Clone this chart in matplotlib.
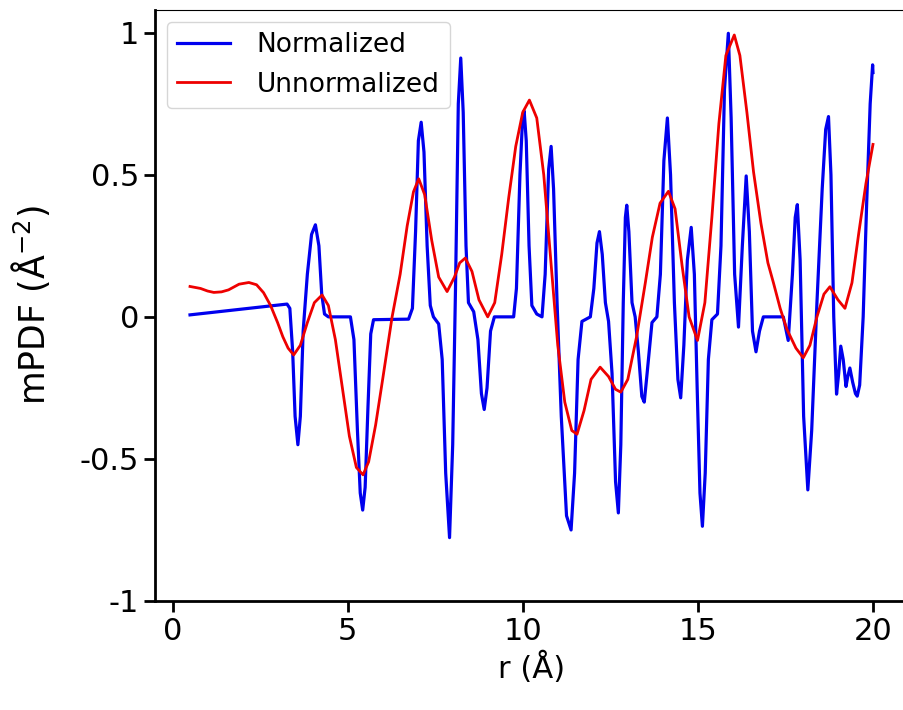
import numpy as np
import matplotlib.pyplot as plt

# Normalized mPDF
r_norm = [0.5, 3.27, 3.35, 3.43, 3.50, 3.58, 3.65, 3.73, 3.85, 3.97, 4.08, 4.18, 4.26, 4.34, 4.45,
          5.08, 5.18, 5.28, 5.36, 5.43, 5.50, 5.58, 5.66, 5.74, 6.74, 6.85, 6.94, 7.02, 7.10, 7.18,
          7.27, 7.36, 7.45, 7.60, 7.70, 7.80, 7.91, 8.00, 8.08, 8.16, 8.23, 8.30, 8.38, 8.45, 8.60,
          8.72, 8.82, 8.90, 8.98, 9.08, 9.19, 9.74, 9.82, 9.92, 10.00, 10.04, 10.10, 10.18, 10.26,
          10.40, 10.55, 10.64, 10.74, 10.81, 10.88, 10.98, 11.10, 11.25, 11.38, 11.48, 11.58, 11.69,
          11.93, 12.03, 12.12, 12.19, 12.27, 12.36, 12.45, 12.55, 12.65, 12.73, 12.80, 12.87, 12.93,
          12.97, 13.03, 13.12, 13.21, 13.30, 13.40, 13.47, 13.55, 13.69, 13.83, 13.93, 14.03, 14.13,
          14.22, 14.33, 14.43, 14.51, 14.60, 14.70, 14.81, 14.90, 14.98, 15.06, 15.13, 15.21, 15.30,
          15.40, 15.56, 15.66, 15.76, 15.87, 15.95, 16.05, 16.16, 16.27, 16.38, 16.47, 16.56, 16.66,
          16.76, 16.87, 17.44, 17.58, 17.70, 17.78, 17.84, 17.92, 18.02, 18.14, 18.25, 18.40, 18.55,
          18.65, 18.73, 18.80, 18.88, 18.96, 19.02, 19.08, 19.15, 19.23, 19.28, 19.34, 19.42, 19.50,
          19.55, 19.62, 19.72, 19.82, 19.92, 19.99, 20.0]
y_norm = [0.007, 0.045, 0.03, -0.12, -0.35, -0.45, -0.35, -0.05, 0.15, 0.29, 0.324, 0.25, 0.08, 0.01, 0.0,
          0.0, -0.08, -0.40, -0.62, -0.68, -0.60, -0.32, -0.06, -0.01, -0.008, 0.03, 0.30, 0.62, 0.685, 0.58,
          0.25, 0.04, 0.0, -0.025, -0.15, -0.55, -0.777, -0.45, 0.10, 0.75, 0.911, 0.72, 0.25, 0.05, 0.018,
          -0.08, -0.27, -0.326, -0.25, -0.05, 0.0, 0.0, 0.10, 0.50, 0.71, 0.725, 0.62, 0.25, 0.04,
          0.01, 0.0, 0.15, 0.52, 0.60, 0.45, 0.05, -0.35, -0.70, -0.75, -0.55, -0.15, -0.016,
          0.0, 0.10, 0.26, 0.30, 0.22, 0.05, -0.016, -0.20, -0.58, -0.69, -0.45, 0.05, 0.35,
          0.393, 0.30, 0.05, 0.0, -0.12, -0.28, -0.30, -0.20, -0.02, 0.0, 0.15, 0.55, 0.70,
          0.50, 0.05, -0.22, -0.285, -0.10, 0.20, 0.315, 0.15, -0.25, -0.62, -0.737, -0.55, -0.15,
          -0.01, 0.01, 0.25, 0.80, 0.998, 0.70, 0.15, -0.036, 0.25, 0.496, 0.30, -0.05, -0.123,
          -0.05, 0.0, 0.0, -0.083, 0.15, 0.35, 0.395, 0.20, -0.35, -0.609, -0.40, 0.05, 0.45,
          0.66, 0.705, 0.50, 0.0, -0.272, -0.20, -0.103, -0.15, -0.245, -0.21, -0.18, -0.23, -0.27,
          -0.279, -0.24, 0.0, 0.40, 0.75, 0.887, 0.86]

# Unnormalized mPDF
r_unnorm = [0.5, 0.8, 1.0, 1.18, 1.4, 1.6, 1.9, 2.18, 2.4, 2.6, 2.8, 3.0, 3.15, 3.30, 3.46, 3.65, 3.85,
            4.05, 4.27, 4.45, 4.65, 4.85, 5.05, 5.25, 5.44, 5.60, 5.80, 6.00, 6.27, 6.50, 6.70, 6.88,
            7.03, 7.20, 7.40, 7.60, 7.84, 8.05, 8.20, 8.36, 8.55, 8.75, 9.00, 9.20, 9.40, 9.60, 9.80,
            10.00, 10.19, 10.40, 10.60, 10.80, 11.00, 11.20, 11.40, 11.55, 11.75, 11.95, 12.21, 12.45,
            12.65, 12.80, 13.00, 13.25, 13.50, 13.70, 13.92, 14.16, 14.35, 14.55, 14.75, 14.99, 15.20,
            15.40, 15.60, 15.80, 16.04, 16.20, 16.40, 16.59, 16.80, 17.00, 17.16, 17.35, 17.54, 17.80,
            18.01, 18.20, 18.40, 18.60, 18.77, 19.00, 19.20, 19.40, 19.60, 19.80, 20.00]
y_unnorm = [0.107, 0.100, 0.091, 0.086, 0.088, 0.095, 0.115, 0.121, 0.113, 0.085, 0.04, -0.02, -0.07,
            -0.11, -0.134, -0.10, -0.02, 0.05, 0.077, 0.04, -0.08, -0.25, -0.42, -0.53, -0.556, -0.51,
            -0.38, -0.22, 0.0, 0.15, 0.32, 0.44, 0.486, 0.43, 0.27, 0.14, 0.089, 0.14, 0.19, 0.207,
            0.16, 0.06, 0.0, 0.05, 0.22, 0.42, 0.60, 0.72, 0.763, 0.70, 0.50, 0.20, -0.10, -0.30,
            -0.40, -0.413, -0.33, -0.22, -0.177, -0.21, -0.255, -0.265, -0.22, -0.07, 0.12, 0.28,
            0.40, 0.442, 0.38, 0.18, 0.00, -0.083, 0.05, 0.35, 0.68, 0.92, 0.992, 0.92, 0.72, 0.51,
            0.33, 0.19, 0.119, 0.03, -0.043, -0.11, -0.144, -0.10, 0.00, 0.08, 0.106, 0.06, 0.03,
            0.12, 0.30, 0.47, 0.607]

yticks = [-1, -0.5, 0, 0.5, 1]
ytick_labels = ['-1', '-0.5', '0', '0.5', '1']
xticks = [0, 5, 10, 15, 20]

fig = plt.figure(figsize=(9.04, 7.10), dpi=100)
ax = fig.add_axes([155 / 904, 109 / 710, 753 / 904, 591 / 710])

ax.plot(r_norm, y_norm, color='#0000ee', lw=2.3, label='Normalized')
ax.plot(r_unnorm, y_unnorm, color='#ee0000', lw=2.0, label='Unnormalized')

ax.set_xlim(-0.5, 21)
ax.set_ylim(-1, 1.08)
ax.set_xticks(xticks)
ax.set_yticks(yticks)
ax.set_yticklabels(ytick_labels)
ax.tick_params(labelsize=22, length=8, width=2, direction='out')
for side in ['left', 'bottom']:
    ax.spines[side].set_linewidth(2)
ax.set_xlabel('r (Å)', fontsize=22, labelpad=4)
ax.set_ylabel('mPDF (Å$^{-2}$)', fontsize=25, labelpad=20)
ax.legend(loc='upper left', fontsize=19, handlelength=2.0, handletextpad=1.0,
          borderaxespad=0.45)

fig.savefig('out.png', dpi=100)
